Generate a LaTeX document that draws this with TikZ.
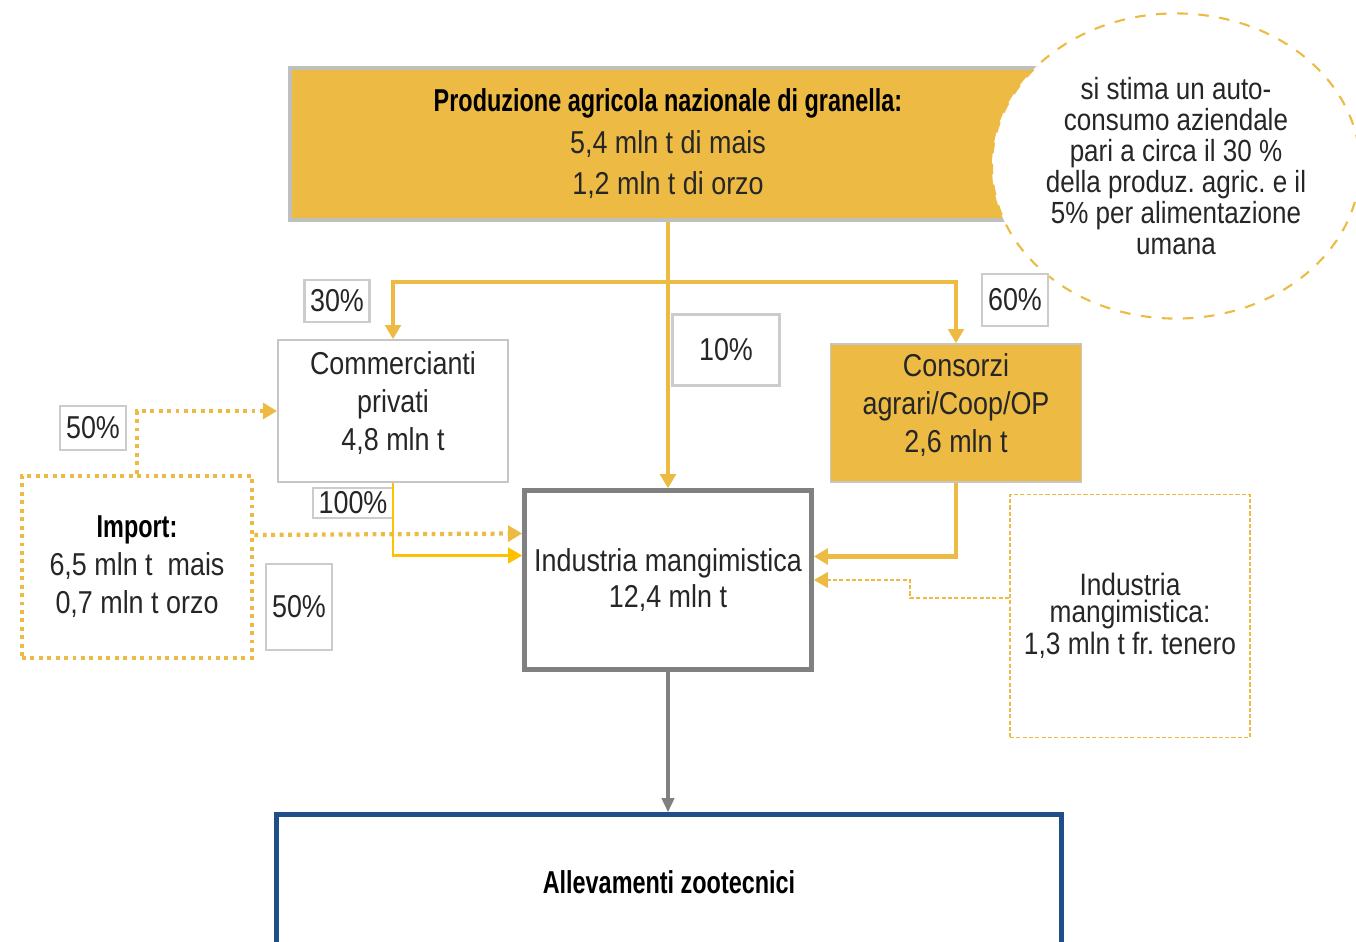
\documentclass[tikz,border=0pt]{standalone}
\usepackage{fontspec}
\setmainfont{Liberation Sans}[FakeStretch=0.85]
\newfontfamily\titlefont{Liberation Sans}[FakeStretch=0.74]
\usepackage{tikz}
\usetikzlibrary{arrows.meta, positioning, shapes.geometric}
\definecolor{gold}{RGB}{237,187,68}
\definecolor{brightgold}{RGB}{255,192,0}
\definecolor{txt}{RGB}{38,38,38}
\definecolor{farmblue}{RGB}{31,78,137}
\frenchspacing

\begin{document}
\begin{tikzpicture}[
  x=0.01cm, y=-0.01cm,
  every node/.style={text=txt, font=\fontsize{9}{10.8}\selectfont},
  box/.style={draw=gray!45, line width=0.5pt, align=center, inner sep=0pt},
  perc/.style={draw=gray!40, line width=0.6pt, fill=white, inner sep=0pt},
  flow/.style={draw=gold, line width=0.9pt, -{Triangle[length=4pt,width=4.5pt]}},
  dotflow/.style={draw=gold, line width=1.2pt, dash pattern=on 1.1pt off 1.3pt, -{Triangle[length=4pt,width=4.5pt]}},
  >=Stealth
]
\useasboundingbox (0,0) rectangle (1356,942);
\clip (0,0) rectangle (1356,942);

% nodes
\node[box, draw=gray!50, line width=1.1pt, fill=gold, minimum width=7.56cm, minimum height=1.52cm] (prod) at (668,144)
  {{\titlefont\bfseries\color{black}Produzione agricola nazionale di granella:}\\[1pt] 5,4 mln t di mais\\[1pt] 1,2 mln t di orzo};
\node[ellipse, draw=gold, dashed, line width=0.6pt, fill=white, minimum width=3.62cm, minimum height=3.05cm,
  align=center, inner sep=0pt, font=\fontsize{8.7}{8.8}\selectfont] (note) at (1176,166)
  {si stima un auto-\\consumo aziendale\\pari a circa il 30 \%\\della produz. agric. e il\\5\% per alimentazione\\umana};
\node[box, fill=white, minimum width=2.30cm, minimum height=1.42cm] (comm) at (393,411)
  {\smash{\parbox{2.2cm}{\centering Commercianti\\privati\\4,8 mln t}}};
\node[box, fill=gold, minimum width=2.51cm, minimum height=1.38cm] (cons) at (956,413)
  {\smash{\parbox{2.4cm}{\centering Consorzi\\agrari/Coop/OP\\2,6 mln t}}};
\node[box, draw=gray, line width=1.3pt, fill=white, minimum width=2.87cm, minimum height=1.79cm,
  font=\fontsize{9}{10}\selectfont] (ind) at (668,580)
  {Industria mangimistica\\12,4 mln t};
\node[box, draw=gold, line width=1.3pt, dash pattern=on 1.1pt off 1.3pt, minimum width=2.30cm, minimum height=1.82cm] (imp) at (137,567)
  {{\titlefont\bfseries\color{black}Import:}\\6,5 mln t~ mais\\0,7 mln t orzo};
\node[box, draw=gold, dash pattern=on 1.2pt off 0.6pt, line width=0.5pt, minimum width=2.40cm, minimum height=2.43cm,
  font=\fontsize{8.8}{7.6}\selectfont] (wheat) at (1130,616)
  {Industria\\mangimistica:\\1,3 mln t fr. tenero};
\node[box, draw=farmblue, line width=1.3pt, fill=white, minimum width=7.85cm, minimum height=1.35cm] (farm) at (669,882)
  {\titlefont\bfseries\color{black}Allevamenti zootecnici};

% percentuali
\node[perc, minimum width=0.65cm, minimum height=0.42cm] (p30) at (337,301) {30\%};
\node[perc, minimum width=0.66cm, minimum height=0.52cm] (p60) at (1015,300) {60\%};
\node[perc, minimum width=1.07cm, minimum height=0.71cm] (p10) at (726,350) {10\%};
\node[perc, minimum width=0.80cm, minimum height=0.30cm] (p100) at (353,503) {100\%};
\node[perc, minimum width=0.66cm, minimum height=0.44cm] (p50a) at (93,428) {50\%};
\node[perc, minimum width=0.66cm, minimum height=0.86cm] (p50b) at (299,607) {50\%};

% flussi
\coordinate (split) at (668,282);
\draw[flow] (prod.south) -- (ind.north);
\draw[flow] (split) -| (comm.north);
\draw[flow] (split) -| (cons.north);
\draw[flow, draw=brightgold, line width=0.7pt] (comm.south) |- ([yshift=0.245cm]ind.west);
\draw[flow, line width=1.3pt] (cons.south) |- ([yshift=0.235cm]ind.east);
\draw[flow, line width=0.45pt, dash pattern=on 1.2pt off 0.6pt] ([yshift=0.18cm]wheat.west) -- ++(-99,0) |- ([yshift=0cm]ind.east);
\draw[dotflow] (imp.north) |- (comm.west);
\draw[dotflow] ([yshift=0.32cm]imp.east) -- ([yshift=0.465cm]ind.west);
\draw[draw=gray, line width=0.9pt, -{Triangle[length=4pt,width=3.5pt]}] (ind.south) -- (ind.south |- farm.north);
\end{tikzpicture}
\end{document}
